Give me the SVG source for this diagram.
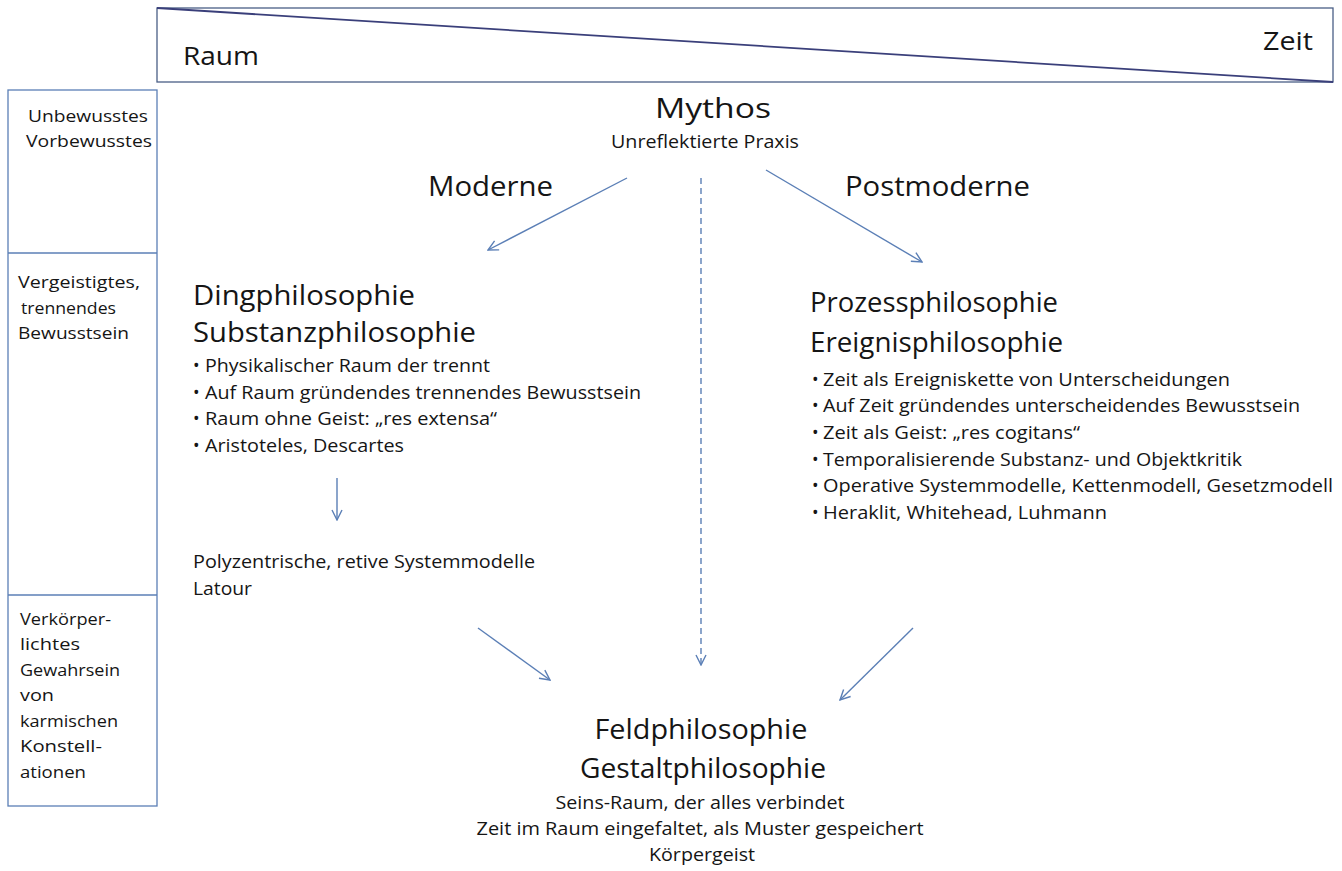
<svg xmlns="http://www.w3.org/2000/svg" width="1342" height="871" viewBox="0 0 1342 871">
<style>
text{font-family:"Open Sans","Noto Sans","DejaVu Sans",sans-serif;fill:#151515}
.h{font-size:28px}
.b{font-size:17.5px}
.s{font-size:16.5px}
.c{text-anchor:middle}
.conn{stroke:#5b7fb6;stroke-width:1.4;fill:none}
</style>
<defs>
<marker id="ah" viewBox="0 0 12 12" refX="11" refY="6" markerWidth="12" markerHeight="12" markerUnits="userSpaceOnUse" orient="auto">
<path d="M1,1 L11,6 L1,11" fill="none" stroke="#5b7fb6" stroke-width="1.4"/>
</marker>
</defs>
<rect width="1342" height="871" fill="#fff"/>
<g id="raumzeit">
<rect x="157" y="8" width="1176" height="74" fill="#fff" stroke="#4a5f86" stroke-width="1.3"/>
<line x1="157" y1="8" x2="1333" y2="82" stroke="#3a3f7a" stroke-width="1.8"/>
<text x="183" y="65" style="font-size:25px" textLength="76" lengthAdjust="spacingAndGlyphs">Raum</text>
<text x="1263" y="50" style="font-size:25px" textLength="50" lengthAdjust="spacingAndGlyphs">Zeit</text>
</g>
<g id="bewusstsein">
<rect x="8" y="90" width="149" height="716" fill="#fff" stroke="#5b7fb6" stroke-width="1.3"/>
<line x1="8" y1="253" x2="157" y2="253" stroke="#5b7fb6" stroke-width="1.3"/>
<line x1="8" y1="595" x2="157" y2="595" stroke="#5b7fb6" stroke-width="1.3"/>
<text class="s" x="28" y="122" textLength="120" lengthAdjust="spacingAndGlyphs">Unbewusstes</text>
<text class="s" x="26" y="147" textLength="126" lengthAdjust="spacingAndGlyphs">Vorbewusstes</text>
<text class="s" x="18" y="288" textLength="122" lengthAdjust="spacingAndGlyphs">Vergeistigtes,</text>
<text class="s" x="21" y="314" textLength="95" lengthAdjust="spacingAndGlyphs">trennendes</text>
<text class="s" x="18" y="339" textLength="111" lengthAdjust="spacingAndGlyphs">Bewusstsein</text>
<text class="s" x="20" y="625" textLength="91" lengthAdjust="spacingAndGlyphs">Verkörper-</text>
<text class="s" x="20" y="650" textLength="60" lengthAdjust="spacingAndGlyphs">lichtes</text>
<text class="s" x="20" y="676" textLength="100" lengthAdjust="spacingAndGlyphs">Gewahrsein</text>
<text class="s" x="20" y="701" textLength="34" lengthAdjust="spacingAndGlyphs">von</text>
<text class="s" x="20" y="727" textLength="98" lengthAdjust="spacingAndGlyphs">karmischen</text>
<text class="s" x="20" y="752" textLength="82" lengthAdjust="spacingAndGlyphs">Konstell-</text>
<text class="s" x="20" y="778" textLength="66" lengthAdjust="spacingAndGlyphs">ationen</text>
</g>
<g id="mythos">
<text class="h c" x="713" y="118" textLength="116" lengthAdjust="spacingAndGlyphs">Mythos</text>
<text class="b c" x="705" y="148" textLength="188" lengthAdjust="spacingAndGlyphs">Unreflektierte Praxis</text>
</g>
<g id="moderne">
<text class="h" x="428" y="196" textLength="125" lengthAdjust="spacingAndGlyphs">Moderne</text>
</g>
<g id="postmoderne">
<text class="h" x="845" y="196" textLength="185" lengthAdjust="spacingAndGlyphs">Postmoderne</text>
</g>
<g id="dingphilosophie">
<text class="h" x="193" y="305" textLength="222" lengthAdjust="spacingAndGlyphs">Dingphilosophie</text>
<text class="h" x="193" y="342" textLength="283" lengthAdjust="spacingAndGlyphs">Substanzphilosophie</text>
<text class="b" x="193" y="372">•</text>
<text class="b" x="205" y="372" textLength="285" lengthAdjust="spacingAndGlyphs">Physikalischer Raum der trennt</text>
<text class="b" x="193" y="399">•</text>
<text class="b" x="205" y="399" textLength="436" lengthAdjust="spacingAndGlyphs">Auf Raum gründendes trennendes Bewusstsein</text>
<text class="b" x="193" y="425">•</text>
<text class="b" x="205" y="425" textLength="292" lengthAdjust="spacingAndGlyphs">Raum ohne Geist: „res extensa“</text>
<text class="b" x="193" y="452">•</text>
<text class="b" x="205" y="452" textLength="199" lengthAdjust="spacingAndGlyphs">Aristoteles, Descartes</text>
</g>
<g id="polyzentrisch">
<text class="b" x="193" y="568" textLength="342" lengthAdjust="spacingAndGlyphs">Polyzentrische, retive Systemmodelle</text>
<text class="b" x="193" y="595" textLength="59" lengthAdjust="spacingAndGlyphs">Latour</text>
</g>
<g id="prozessphilosophie">
<text class="h" x="810" y="312" textLength="248" lengthAdjust="spacingAndGlyphs">Prozessphilosophie</text>
<text class="h" x="810" y="352" textLength="253" lengthAdjust="spacingAndGlyphs">Ereignisphilosophie</text>
<text class="b" x="812" y="386">•</text>
<text class="b" x="823" y="386" textLength="407" lengthAdjust="spacingAndGlyphs">Zeit als Ereigniskette von Unterscheidungen</text>
<text class="b" x="812" y="412">•</text>
<text class="b" x="823" y="412" textLength="477" lengthAdjust="spacingAndGlyphs">Auf Zeit gründendes unterscheidendes Bewusstsein</text>
<text class="b" x="812" y="439">•</text>
<text class="b" x="823" y="439" textLength="257" lengthAdjust="spacingAndGlyphs">Zeit als Geist: „res cogitans“</text>
<text class="b" x="812" y="466">•</text>
<text class="b" x="823" y="466" textLength="419" lengthAdjust="spacingAndGlyphs">Temporalisierende Substanz- und Objektkritik</text>
<text class="b" x="812" y="492">•</text>
<text class="b" x="823" y="492" textLength="510" lengthAdjust="spacingAndGlyphs">Operative Systemmodelle, Kettenmodell, Gesetzmodell</text>
<text class="b" x="812" y="519">•</text>
<text class="b" x="823" y="519" textLength="284" lengthAdjust="spacingAndGlyphs">Heraklit, Whitehead, Luhmann</text>
</g>
<g id="feldphilosophie">
<text class="h c" x="701" y="739" textLength="213" lengthAdjust="spacingAndGlyphs">Feldphilosophie</text>
<text class="h c" x="703" y="778" textLength="246" lengthAdjust="spacingAndGlyphs">Gestaltphilosophie</text>
<text class="b c" x="700" y="809" textLength="289" lengthAdjust="spacingAndGlyphs">Seins-Raum, der alles verbindet</text>
<text class="b c" x="700" y="835" textLength="447" lengthAdjust="spacingAndGlyphs">Zeit im Raum eingefaltet, als Muster gespeichert</text>
<text class="b c" x="702" y="861" textLength="106" lengthAdjust="spacingAndGlyphs">Körpergeist</text>
</g>
<g id="connectors">
<line class="conn" x1="627" y1="178" x2="488" y2="250" marker-end="url(#ah)"/>
<line class="conn" x1="766" y1="170" x2="922" y2="262" marker-end="url(#ah)"/>
<line class="conn" x1="701" y1="178" x2="701" y2="665" stroke-dasharray="6,4" marker-end="url(#ah)"/>
<line class="conn" x1="337" y1="478" x2="337" y2="520" marker-end="url(#ah)"/>
<line class="conn" x1="478" y1="628" x2="550" y2="680" marker-end="url(#ah)"/>
<line class="conn" x1="913" y1="628" x2="840" y2="700" marker-end="url(#ah)"/>
</g>
</svg>
